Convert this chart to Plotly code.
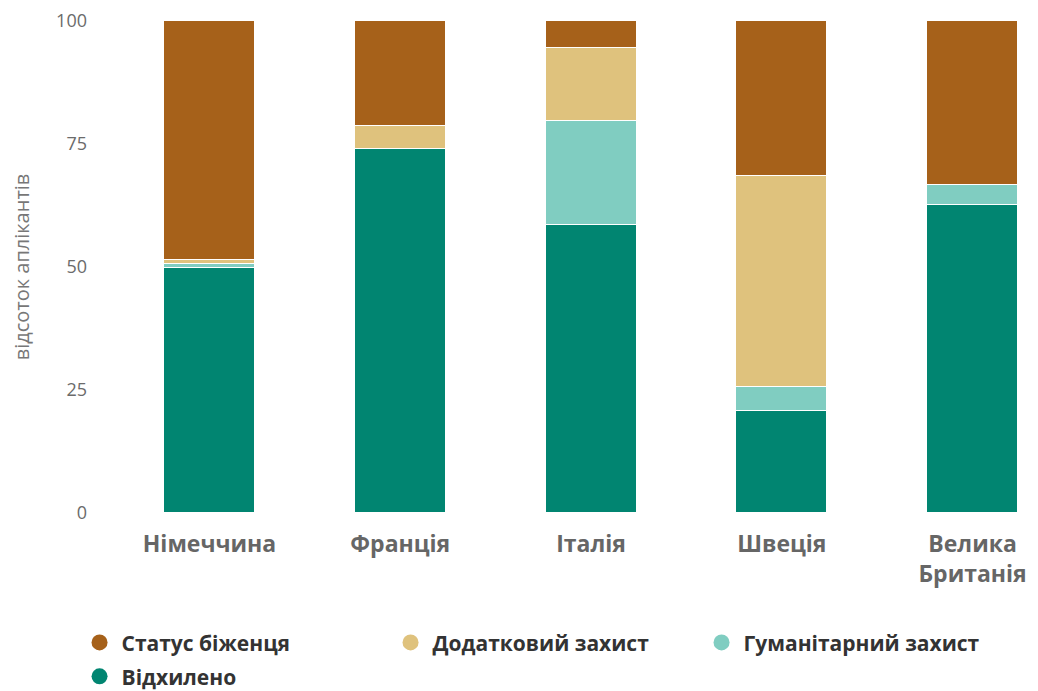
import plotly.graph_objects as go

countries = ["Німеччина", "Франція", "Італія", "Швеція", "Велика<br>Британія"]
rejected = [49.8, 74.0, 58.5, 20.7, 62.6]
humanitarian = [0.9, 0.0, 21.2, 4.9, 4.1]
additional = [0.8, 4.7, 14.8, 42.9, 0.0]
refugee = [48.5, 21.3, 5.5, 31.5, 33.3]

series_names = ["Відхилено", "Гуманітарний захист", "Додатковий захист", "Статус біженця"]
series_values = [rejected, humanitarian, additional, refugee]
colors = ["#018571", "#80CDC1", "#DFC27D", "#A6611A"]
y_ticks = [0, 25, 50, 75, 100]

fig = go.Figure()
for name, vals, col in zip(series_names, series_values, colors):
    fig.add_trace(go.Bar(
        x=list(range(len(countries))), y=vals, name=name,
        marker=dict(color=col, line=dict(color="white", width=1)),
        width=0.477, showlegend=False,
    ))

legend_order = [3, 2, 1, 0]
for rank, i in enumerate(legend_order):
    fig.add_trace(go.Scatter(
        x=[None], y=[None], mode="markers", name=series_names[i],
        marker=dict(color=colors[i], size=16, symbol="circle"),
        legendrank=rank + 1, showlegend=True,
        legend="legend" if rank < 3 else "legend2",
    ))

legend_font = dict(family="Open Sans", size=21, color="#333333", weight="bold")

fig.update_layout(
    width=1038, height=691,
    barmode="stack",
    plot_bgcolor="white", paper_bgcolor="white",
    margin=dict(l=92, r=8, t=13, b=186, autoexpand=False),
    bargap=0,
    xaxis=dict(
        tickmode="array", tickvals=list(range(len(countries))), ticktext=countries,
        range=[-0.574, 4.343], showgrid=False, zeroline=False, showline=False,
        tickfont=dict(family="Open Sans", size=23, color="#666666", weight="bold"),
        ticks="", ticklabelstandoff=15,
    ),
    yaxis=dict(
        range=[0, 100], tickvals=y_ticks, showgrid=False, zeroline=False, showline=False,
        tickfont=dict(family="Open Sans", size=18, color="#6b6b6b"),
        ticklabelstandoff=12,
        title=dict(text="відсоток аплікантів", font=dict(family="Open Sans", size=20, color="#777777"), standoff=22),
    ),
    legend=dict(
        orientation="h", xref="container", yref="container", x=0.067, y=0.111,
        xanchor="left", yanchor="top", itemwidth=34,
        font=legend_font, entrywidth=262, traceorder="normal",
    ),
    legend2=dict(
        orientation="h", xref="container", yref="container", x=0.067, y=0.062,
        xanchor="left", yanchor="top", itemwidth=34,
        font=legend_font, entrywidth=262, traceorder="normal",
    ),
)

fig.write_html("out.html")
